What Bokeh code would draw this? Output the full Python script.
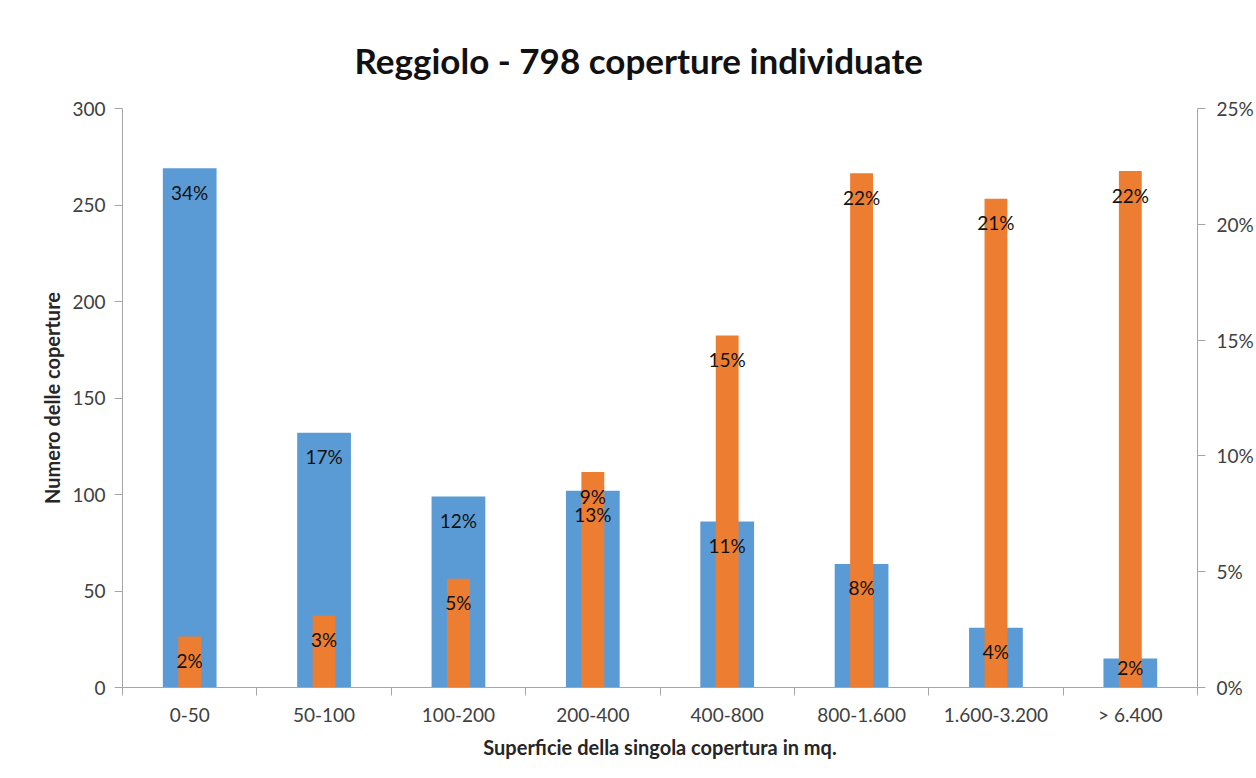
from bokeh.plotting import figure
from bokeh.models import (Range1d, LinearAxis, FixedTicker, NumeralTickFormatter,
                          ColumnDataSource, Title)
from bokeh.core.properties import value
from bokeh.embed import file_html
from bokeh.resources import INLINE

# ---- data ----
categories = ["0-50", "50-100", "100-200", "200-400", "400-800",
              "800-1.600", "1.600-3.200", "> 6.400"]
counts = [269, 132, 99, 102, 86, 64, 31, 15]
area_share = [0.022, 0.031, 0.047, 0.093, 0.152, 0.222, 0.211, 0.223]
count_labels = ["34%", "17%", "12%", "13%", "11%", "8%", "4%", "2%"]
area_labels = ["2%", "3%", "5%", "9%", "15%", "22%", "21%", "22%"]
left_ticks = [0, 50, 100, 150, 200, 250, 300]
right_ticks = [0, 0.05, 0.10, 0.15, 0.20, 0.25]

BLUE = "#5B9BD5"
ORANGE = "#ED7D31"
AXIS = "#A6A6A6"
FONT = "Lato"

W, H = 1256, 778
MB_L, MB_R, MB_T, MB_B = 122, 59, 108, 91
frame_h = H - MB_T - MB_B

xs = [i + 0.5 for i in range(len(categories))]

p = figure(width=W, height=H, x_range=Range1d(0, len(categories)),
           y_range=Range1d(0, 300), output_backend="svg", toolbar_location=None,
           min_border_left=MB_L, min_border_right=MB_R,
           min_border_top=MB_T, min_border_bottom=MB_B)
p.extra_y_ranges = {"pct": Range1d(0, 0.25)}

# label positions: "inside end", 24px below the bar top, but not lower than 20px above axis
px_count = frame_h / 300.0
px_pct = frame_h / 0.25
count_label_y = [max(c - 24 / px_count, 20 / px_count) for c in counts]
area_label_y = [max(a - 24 / px_pct, 20 / px_pct) for a in area_share]

src = ColumnDataSource(dict(x=xs, counts=counts, area=area_share,
                            clab=count_labels, alab=area_labels,
                            cy=count_label_y, ay=area_label_y))

p.vbar(x="x", top="counts", width=0.40, source=src, fill_color=BLUE, line_color=None)
p.vbar(x="x", top="area", width=0.17, source=src, fill_color=ORANGE, line_color=None,
       y_range_name="pct")
p.text(x="x", y="cy", text="clab", source=src, text_align="center",
       text_baseline="middle", text_font=value(FONT), text_font_size="19px",
       text_color="#111111")
p.text(x="x", y="ay", text="alab", source=src, text_align="center",
       text_baseline="middle", text_font=value(FONT), text_font_size="19px",
       text_color="#111111", y_range_name="pct")

# ---- axes ----
xa = p.xaxis[0]
xa.ticker = FixedTicker(ticks=xs, minor_ticks=list(range(len(categories) + 1)))
xa.major_label_overrides = {x: c for x, c in zip(xs, categories)}
xa.major_tick_out = 0
xa.major_tick_in = 0
xa.minor_tick_out = 8
xa.minor_tick_in = 0
xa.minor_tick_line_color = AXIS
xa.axis_line_color = AXIS
xa.major_label_text_font = FONT
xa.major_label_text_font_size = "19px"
xa.major_label_text_color = "#404040"
xa.major_label_standoff = 7
xa.axis_label = "Superficie della singola copertura in mq."
xa.axis_label_text_font = FONT
xa.axis_label_text_font_style = "bold"
xa.axis_label_text_font_size = "20px"
xa.axis_label_text_color = "#262626"
xa.axis_label_standoff = 6

ya = p.yaxis[0]
ya.ticker = FixedTicker(ticks=left_ticks)
ya.major_tick_out = 8
ya.major_tick_in = 0
ya.major_tick_line_color = AXIS
ya.minor_tick_line_color = None
ya.axis_line_color = AXIS
ya.major_label_text_font = FONT
ya.major_label_text_font_size = "19px"
ya.major_label_text_color = "#404040"
ya.major_label_standoff = 9
ya.axis_label = "Numero delle coperture"
ya.axis_label_text_font = FONT
ya.axis_label_text_font_style = "bold"
ya.axis_label_text_font_size = "20px"
ya.axis_label_text_color = "#262626"
ya.axis_label_standoff = 5

ra = LinearAxis(y_range_name="pct", ticker=FixedTicker(ticks=right_ticks),
                formatter=NumeralTickFormatter(format="0%"))
ra.major_tick_out = 8
ra.major_tick_in = 0
ra.major_tick_line_color = AXIS
ra.minor_tick_line_color = None
ra.axis_line_color = AXIS
ra.major_label_text_font = FONT
ra.major_label_text_font_size = "19px"
ra.major_label_text_color = "#404040"
ra.major_label_standoff = 11
p.add_layout(ra, "right")

p.xgrid.visible = False
p.ygrid.visible = False
p.outline_line_color = None

p.title = Title(text="Reggiolo - 798 coperture individuate", align="left",
                offset=232, text_font=FONT, text_font_size="35px",
                text_font_style="bold", text_color="#111111", standoff=55)

open("out.html", "w").write(file_html(p, INLINE))
